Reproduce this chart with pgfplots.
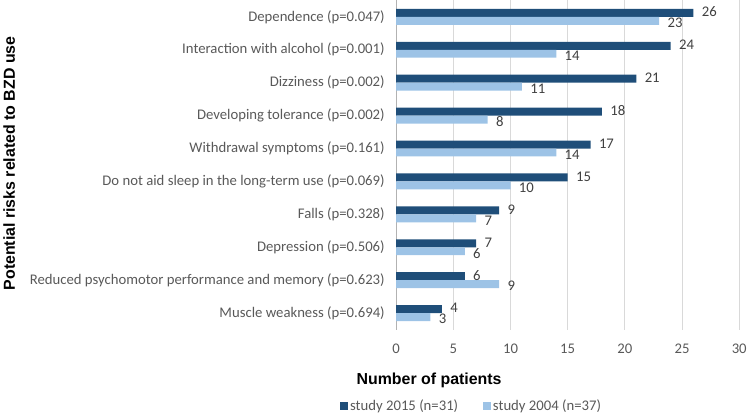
\documentclass[border=0pt]{standalone}
\usepackage{pgfplots}
\pgfplotsset{compat=1.18}
\usepackage{fontspec}
\setmainfont{Carlito}
\newfontfamily\arialfont{Liberation Sans}
\definecolor{dark}{HTML}{1F4E79}
\definecolor{light}{HTML}{9DC3E6}
\definecolor{txt}{HTML}{595959}
\definecolor{lbl}{HTML}{404040}
\definecolor{gridc}{HTML}{D9D9D9}
\begin{document}
\begin{tikzpicture}
\begin{axis}[
  scale only axis,
  width=345bp, height=331bp,
  xmin=0, xmax=30,
  ymin=-0.5, ymax=9.5,
  y dir=reverse,
  xtick={0,5,...,30},
  ytick={0,...,9},
  yticklabels={Dependence (p=0.047),Interaction with alcohol (p=0.001),Dizziness (p=0.002),Developing tolerance (p=0.002),Withdrawal symptoms (p=0.161),Do not aid sleep in the long-term use (p=0.069),Falls (p=0.328),Depression (p=0.506),Reduced psychomotor performance and memory (p=0.623),Muscle weakness (p=0.694)},
  /pgf/number format/assume math mode=true,
  tick label style={font=\fontsize{14.8bp}{16bp}\selectfont, text=txt},
  yticklabel style={xshift=-8bp},
  xticklabel style={yshift=-11bp},
  major tick length=0pt,
  xmajorgrids, grid style={gridc, line width=0.8bp},
  axis lines=left, axis line style={-},
  x axis line style={draw=none},
  y axis line style={draw=gray!60, line width=0.8bp},
  xbar, bar width=8bp,
  xlabel={Number of patients},
  xlabel style={font=\arialfont\bfseries\fontsize{16bp}{18bp}\selectfont, at={(axis description cs:0.096,0)}, anchor=center, yshift=-51bp},
  ylabel={Potential risks related to BZD use},
  ylabel style={font=\arialfont\bfseries\fontsize{16bp}{18bp}\selectfont, at={(axis description cs:-1.128,0.505)}, anchor=center, rotate=0},
  legend columns=2,
  legend style={draw=none, fill=none, font=\fontsize{14.8bp}{16bp}\selectfont, text=txt, at={(axis description cs:0.22,-0.232)}, anchor=center, /tikz/every even column/.append style={column sep=23bp}},
  legend image code/.code={\fill[#1] (0bp,-4bp) rectangle (8bp,4bp);},
  nodes near coords,
  every node near coord/.append style={font=\fontsize{14.8bp}{16bp}\selectfont, text=lbl, anchor=west, xshift=5bp},
]
\addplot[fill=dark, draw=none, bar shift=4bp, every node near coord/.append style={yshift=1bp}] coordinates {
(26,0) (24,1) (21,2) (18,3) (17,4) (15,5) (9,6) (7,7) (6,8) (4,9)};
\addlegendentry{study 2015 (n=31)}
\addplot[fill=light, draw=none, bar shift=-4bp, every node near coord/.append style={yshift=-2bp}] coordinates {
(23,0) (14,1) (11,2) (8,3) (14,4) (10,5) (7,6) (6,7) (9,8) (3,9)};
\addlegendentry{study 2004 (n=37)}
\end{axis}
\path[use as bounding box] ([xshift=-397bp,yshift=-83bp]current axis.south west) rectangle ([xshift=8bp]current axis.north east);
\end{tikzpicture}
\end{document}
